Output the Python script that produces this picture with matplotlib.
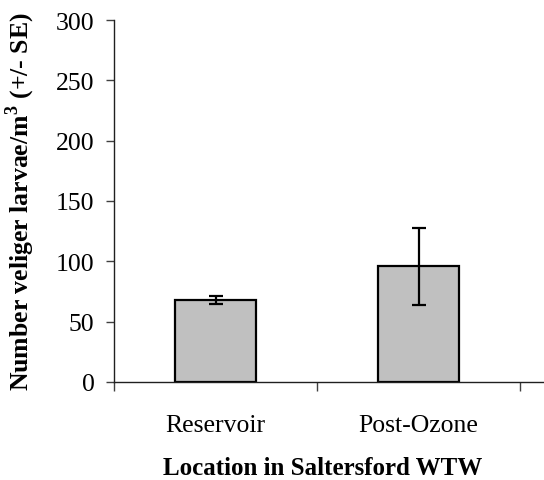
import matplotlib

matplotlib.use("Agg")
import matplotlib.pyplot as plt

locations = ["Reservoir", "Post-Ozone"]
larvae_mean = [68.0, 96.0]
larvae_se = [3.3, 32.0]
y_ticks = [0, 50, 100, 150, 200, 250, 300]

plt.rcParams["font.family"] = ["Liberation Serif", "DejaVu Serif"]
plt.rcParams["mathtext.fontset"] = "custom"
plt.rcParams["mathtext.rm"] = "Liberation Serif:bold"
plt.rcParams["mathtext.bf"] = "Liberation Serif:bold"

fig = plt.figure(figsize=(5.44, 4.81), dpi=100)
ax = fig.add_axes([114 / 544, 1 - 383 / 481, 1 - 114 / 544, (383 - 21) / 481])

positions = list(range(len(locations)))
ax.bar(positions, larvae_mean, width=0.4, color="#C0C0C0", edgecolor="black", linewidth=1.6, zorder=2)
ax.errorbar(positions, larvae_mean, yerr=larvae_se, fmt="none", ecolor="black",
            elinewidth=1.6, capsize=5, capthick=1.6, zorder=3)

ax.set_xlim(-0.5, -0.5 + (544 - 114) / 203)
ax.set_ylim(0, 300)
ax.set_yticks(y_ticks)
ax.set_yticklabels([str(v) for v in y_ticks], fontsize=18.5)

ax.set_xticks([-0.5, 0.5, 1.5])
ax.set_xticklabels(["", "", ""])
ax.set_xticks(positions, minor=True)
ax.set_xticklabels(locations, minor=True, fontsize=18.5)
ax.tick_params(axis="x", which="major", direction="out", length=6.5, width=1, color="#404040")
ax.tick_params(axis="x", which="minor", length=0, pad=23)
ax.tick_params(axis="y", direction="out", length=6, width=1, color="#404040", pad=8)

for side in ("top", "right"):
    ax.spines[side].set_visible(False)
for side in ("left", "bottom"):
    ax.spines[side].set_color("#202020")
    ax.spines[side].set_linewidth(1.0)

ax.set_xlabel("Location in Saltersford WTW", fontsize=18, fontweight="bold")
ax.xaxis.set_label_coords(0.485, -0.205)
ax.set_ylabel("Number veliger larvae/m$^{3}$ (+/- SE)", fontsize=18.5, fontweight="bold")
ax.yaxis.set_label_coords(-0.18, 0.5)

fig.savefig("out.png", dpi=100)
